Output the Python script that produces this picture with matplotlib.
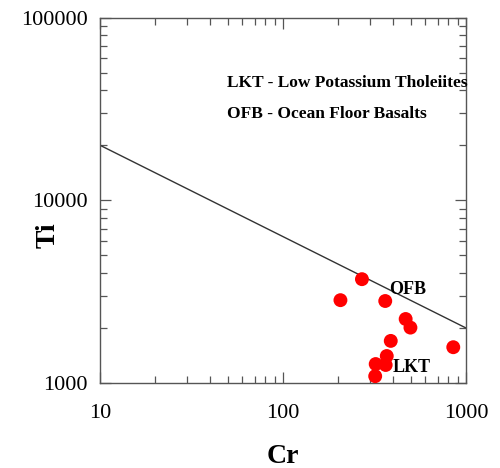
import matplotlib
matplotlib.use("Agg")
import matplotlib.pyplot as plt
from matplotlib.ticker import LogLocator, FixedLocator, FixedFormatter, NullFormatter

# Sample compositions (ppm)
cr_values = [270, 206, 362, 468, 497, 388, 852, 369, 321, 364, 319]
ti_values = [3700, 2840, 2810, 2240, 2010, 1700, 1570, 1405, 1270, 1255, 1090]

# LKT / OFB discrimination boundary
boundary_cr = [10, 1000]
boundary_ti = [20000, 2000]

x_ticks = [10, 100, 1000]
x_tick_labels = ["10", "100", "1000"]
y_ticks = [1000, 10000, 100000]
y_tick_labels = ["1000", "10000", "100000"]

serif = ["Liberation Serif", "DejaVu Serif"]

fig = plt.figure(figsize=(5.0, 4.68), dpi=100)
ax = fig.add_axes([0.2, 0.1816, 0.732, 0.781])

ax.set_xscale("log")
ax.set_yscale("log")
ax.set_xlim(10, 1000)
ax.set_ylim(1000, 100000)

ax.plot(boundary_cr, boundary_ti, color="#333333", lw=1.0, zorder=2)
ax.scatter(cr_values, ti_values, s=100, marker="o", color="#ff0000",
           edgecolors="none", zorder=3)

ax.xaxis.set_major_locator(FixedLocator(x_ticks))
ax.xaxis.set_major_formatter(FixedFormatter(x_tick_labels))
ax.yaxis.set_major_locator(FixedLocator(y_ticks))
ax.yaxis.set_major_formatter(FixedFormatter(y_tick_labels))
for axis in (ax.xaxis, ax.yaxis):
    axis.set_minor_locator(LogLocator(base=10, subs=range(2, 10)))
    axis.set_minor_formatter(NullFormatter())

ax.tick_params(which="both", direction="in", top=True, right=True,
               color="#555555", width=0.9)
ax.tick_params(which="major", length=8)
ax.tick_params(axis="y", which="major", pad=9)
ax.tick_params(axis="x", which="major", pad=15)
ax.tick_params(which="minor", length=5)
for lab in ax.get_xticklabels() + ax.get_yticklabels():
    lab.set_fontfamily(serif)
    lab.set_fontsize(16)
for sp in ax.spines.values():
    sp.set_color("#555555")
    sp.set_linewidth(1.0)

ax.set_xlabel("Cr", fontfamily=serif, fontweight="bold", fontsize=20, va="center")
ax.set_ylabel("Ti", fontfamily=serif, fontweight="bold", fontsize=20, va="center")
ax.xaxis.set_label_coords(0.5, -0.2)
ax.yaxis.set_label_coords(-0.142, 0.405)

ax.text(0.347, 0.82, "LKT - Low Potassium Tholeiites", transform=ax.transAxes,
        fontfamily=serif, fontweight="bold", fontsize=12.5, va="center",
        clip_on=False)
ax.text(0.347, 0.735, "OFB - Ocean Floor Basalts", transform=ax.transAxes,
        fontfamily=serif, fontweight="bold", fontsize=12.5, va="center")

ax.text(482, 3230, "OFB", fontfamily=serif, fontweight="bold", fontsize=13,
        ha="center", va="center")
ax.text(507, 1210, "LKT", fontfamily=serif, fontweight="bold", fontsize=13,
        ha="center", va="center")

fig.savefig("out.png", dpi=100, facecolor="white")
